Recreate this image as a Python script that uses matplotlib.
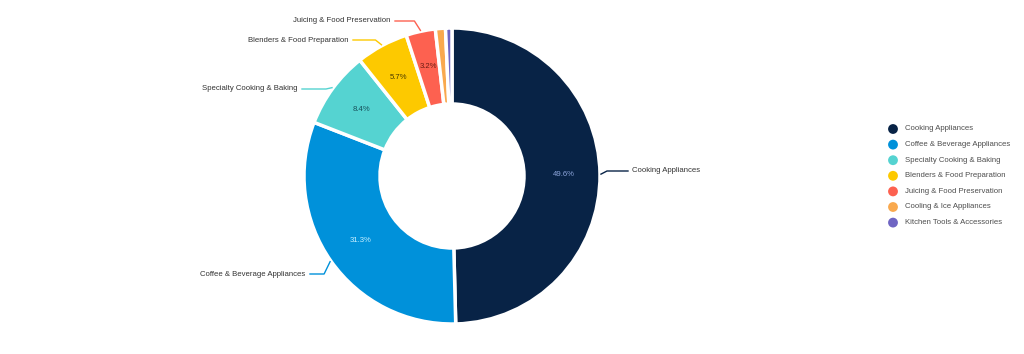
import matplotlib
matplotlib.use('Agg')
import matplotlib.pyplot as plt
import numpy as np

plt.rcParams['font.family'] = ['Liberation Sans', 'DejaVu Sans']

# data
categories = ['Cooking Appliances', 'Coffee & Beverage Appliances', 'Specialty Cooking & Baking',
              'Blenders & Food Preparation', 'Juicing & Food Preservation', 'Cooling & Ice Appliances',
              'Kitchen Tools & Accessories']
shares = [49.6, 31.3, 8.4, 5.7, 3.2, 1.1, 0.7]
colors = ['#082346', '#0091da', '#55d3d1', '#fdc900', '#fd6150', '#f9a94e', '#6f65c3']
pct_colors = ['#8ea6dc', '#c9efff', '#17505a', '#4a3b00', '#6a1d14', None, None]

# outside label positions (pixel coords, y from top) - None = no label
label_pos = [(632, 171), (305, 274), (297, 89), (348, 40), (390, 21), None, None]

W, H = 1024, 354
fig = plt.figure(figsize=(W / 100, H / 100), dpi=100)
ax = fig.add_axes([0, 0, 1, 1])

cx, cy = 452, H - 176
r_out, r_in = 148, 72

wedges, _ = ax.pie(shares, colors=colors, startangle=90, counterclock=False,
                   center=(cx, cy), radius=r_out,
                   wedgeprops=dict(width=r_out - r_in, edgecolor='white', linewidth=2.5, joinstyle='round'))

# pie() resets the limits, so set them afterwards
ax.set_xlim(0, W)
ax.set_ylim(0, H)
ax.set_aspect('equal')
ax.axis('off')

total = sum(shares)
cum = 0
for i, v in enumerate(shares):
    mid = (cum + v / 2) / total * 360  # clockwise from top
    cum += v
    a = np.deg2rad(mid)
    dx, dy = np.sin(a), np.cos(a)
    if pct_colors[i]:
        rr = (r_out + r_in) / 2 + 2
        ax.text(cx + rr * dx, cy + rr * dy, f'{v}%', ha='center', va='center',
                fontsize=5.6, color=pct_colors[i])
    if label_pos[i]:
        tx, ty = label_pos[i]
        ty = H - ty
        px, py = cx + (r_out + 1) * dx, cy + (r_out + 1) * dy
        right = dx > 0
        ex = px + (6 if right else -6)
        if right:
            ax.plot([px, ex, tx - 4], [py, ty, ty], color=colors[i], lw=1)
            ax.text(tx, ty, categories[i], ha='left', va='center', fontsize=5.6, color='#333333')
        else:
            ax.plot([px, ex, tx + 5], [py, ty, ty], color=colors[i], lw=1)
            ax.text(tx, ty, categories[i], ha='right', va='center', fontsize=5.6, color='#333333')

# legend
lx, ly0, step = 893, 129, 15.6
for i, name in enumerate(categories):
    y = H - (ly0 + i * step)
    ax.scatter([lx], [y], s=50, color=colors[i], edgecolors='none')
    ax.text(lx + 12, y, name, ha='left', va='center', fontsize=5.6, color='#4d4d4d')

fig.savefig('out.png', dpi=100)
